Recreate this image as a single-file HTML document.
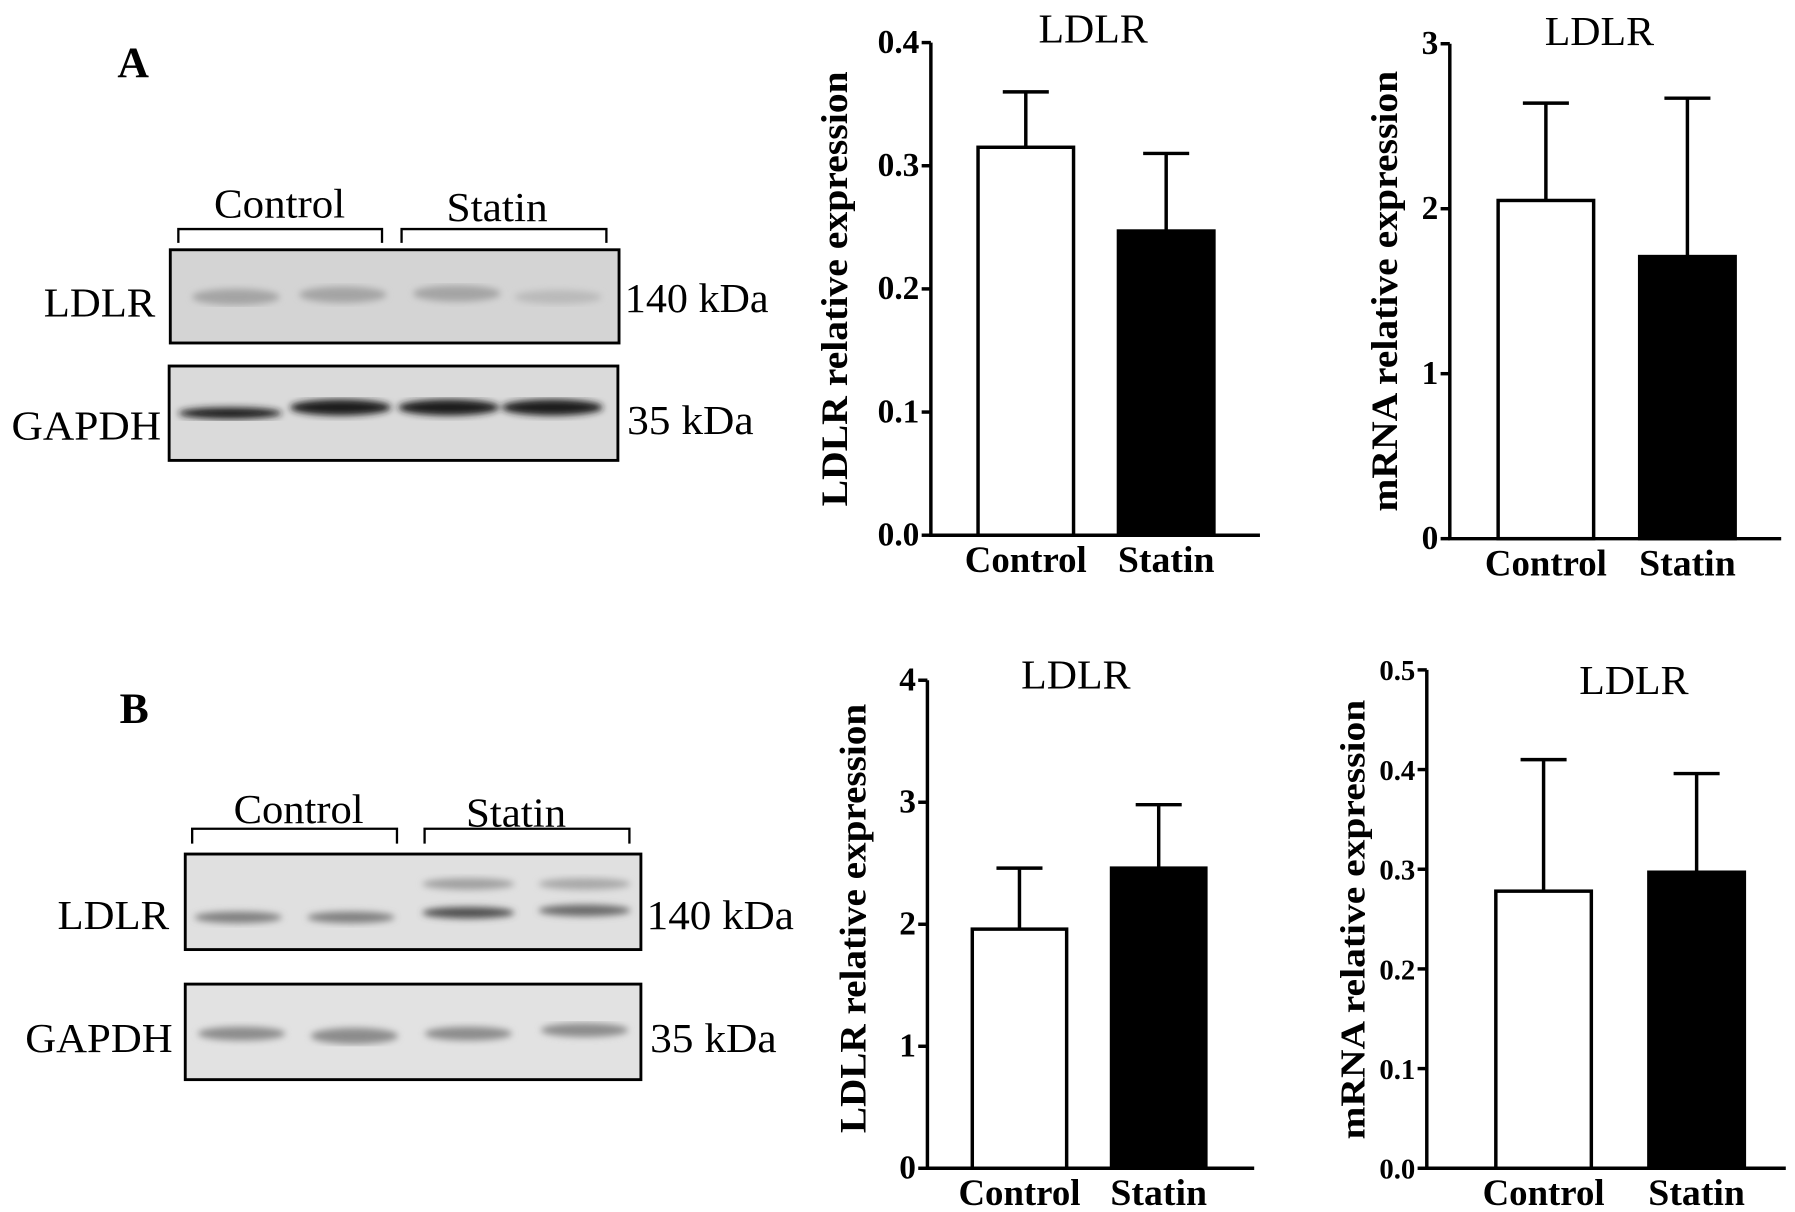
<!DOCTYPE html>
<html><head><meta charset="utf-8"><style>
html,body{margin:0;padding:0;background:#fff}
svg{display:block;font-family:"Liberation Serif",serif}
</style></head><body>
<svg id="fig" width="1795" height="1212" viewBox="0 0 1560 1053" preserveAspectRatio="none" xmlns="http://www.w3.org/2000/svg">
<defs>
<filter id="blur2"><feGaussianBlur stdDeviation="3"/></filter>
</defs>
<!-- Panel A blot -->
<text x="102" y="67" font-size="38" font-weight="bold">A</text>
<text x="186" y="189" font-size="36" textLength="114" lengthAdjust="spacingAndGlyphs">Control</text>
<text x="388" y="192" font-size="36" textLength="88" lengthAdjust="spacingAndGlyphs">Statin</text>
<path d="M155 211 V199 H332 V211" fill="none" stroke="#000" stroke-width="2"/>
<path d="M349 211 V199 H527 V211" fill="none" stroke="#000" stroke-width="2"/>
<g>
<rect x="148" y="217" width="390" height="81" fill="#d4d4d4" stroke="#000" stroke-width="2.5"/>
<g filter="url(#blur2)" fill="#a4a4a4">
<ellipse cx="205" cy="258" rx="38" ry="7"/><ellipse cx="298" cy="256" rx="38" ry="7"/>
<ellipse cx="397" cy="255" rx="38" ry="7"/><ellipse cx="485" cy="258" rx="38" ry="6" fill="#bababa"/>
</g></g>
<text x="38" y="275" font-size="36" textLength="97" lengthAdjust="spacingAndGlyphs">LDLR</text>
<text x="543" y="271" font-size="36" textLength="125" lengthAdjust="spacingAndGlyphs">140 kDa</text>
<g>
<rect x="147" y="318" width="390" height="82" fill="#dadada" stroke="#000" stroke-width="2.5"/>
<g filter="url(#blur2)" fill="#1e1e1e">
<ellipse cx="200" cy="359" rx="45" ry="5"/><ellipse cx="296" cy="354" rx="44" ry="7"/>
<ellipse cx="390" cy="354" rx="44" ry="7"/><ellipse cx="480" cy="354" rx="44" ry="7"/>
</g></g>
<text x="10" y="382" font-size="36" textLength="130" lengthAdjust="spacingAndGlyphs">GAPDH</text>
<text x="545" y="377" font-size="36" textLength="110" lengthAdjust="spacingAndGlyphs">35 kDa</text>
<!-- Panel B blot -->
<text x="104" y="628" font-size="38" font-weight="bold">B</text>
<text x="203" y="715" font-size="36" textLength="113" lengthAdjust="spacingAndGlyphs">Control</text>
<text x="405" y="718" font-size="36" textLength="87" lengthAdjust="spacingAndGlyphs">Statin</text>
<path d="M167 733 V720 H345 V733" fill="none" stroke="#000" stroke-width="2"/>
<path d="M369 733 V720 H547 V733" fill="none" stroke="#000" stroke-width="2"/>
<g>
<rect x="161" y="742" width="396" height="83" fill="#e0e0e0" stroke="#000" stroke-width="2.5"/>
<g filter="url(#blur2)">
<ellipse cx="207" cy="797" rx="38" ry="5" fill="#808080"/><ellipse cx="305" cy="797" rx="38" ry="5" fill="#808080"/>
<ellipse cx="407" cy="793" rx="40" ry="5" fill="#505050"/><ellipse cx="508" cy="791" rx="40" ry="5" fill="#6a6a6a"/>
<ellipse cx="407" cy="768" rx="40" ry="5" fill="#a0a0a0"/><ellipse cx="508" cy="768" rx="40" ry="5" fill="#a8a8a8"/>
</g></g>
<text x="50" y="807" font-size="36" textLength="97" lengthAdjust="spacingAndGlyphs">LDLR</text>
<text x="562" y="807" font-size="36" textLength="128" lengthAdjust="spacingAndGlyphs">140 kDa</text>
<g>
<rect x="161" y="855" width="396" height="83" fill="#e2e2e2" stroke="#000" stroke-width="2.5"/>
<g filter="url(#blur2)" fill="#8c8c8c">
<ellipse cx="210" cy="898" rx="38" ry="6"/><ellipse cx="308" cy="900" rx="38" ry="7"/>
<ellipse cx="407" cy="898" rx="38" ry="6"/><ellipse cx="508" cy="895" rx="38" ry="6"/>
</g></g>
<text x="22" y="914" font-size="36" textLength="128" lengthAdjust="spacingAndGlyphs">GAPDH</text>
<text x="565" y="914" font-size="36" textLength="110" lengthAdjust="spacingAndGlyphs">35 kDa</text>
<g id="charts"></g>
</svg>
<script>
const categories = ["Control", "Statin"];
const aProteinValues = [0.315, 0.247];
const aProteinErrors = [0.36, 0.31];
const aProteinTicks = ["0.0", "0.1", "0.2", "0.3", "0.4"];
const aMrnaValues = [2.05, 1.71];
const aMrnaErrors = [2.64, 2.67];
const aMrnaTicks = ["0", "1", "2", "3"];
const bProteinValues = [1.96, 2.46];
const bProteinErrors = [2.46, 2.98];
const bProteinTicks = ["0", "1", "2", "3", "4"];
const bMrnaValues = [0.278, 0.297];
const bMrnaErrors = [0.41, 0.396];
const bMrnaTicks = ["0.0", "0.1", "0.2", "0.3", "0.4", "0.5"];

const NS = "http://www.w3.org/2000/svg";
const root = document.getElementById("charts");
function mk(tag, attrs, parent, text) {
  const e = document.createElementNS(NS, tag);
  for (const k in attrs) e.setAttribute(k, attrs[k]);
  if (text !== undefined) e.textContent = text;
  parent.appendChild(e);
  return e;
}
function chart(id, cfg, values, errors, ticks) {
  const g = mk("g", {}, root);
  
  
  const max = parseFloat(ticks[ticks.length - 1]);
  const y = v => cfg.y0 - (v / max) * (cfg.y0 - cfg.y1);
  const ax = mk("path", {d: `M${cfg.ax} ${cfg.y1} V${cfg.y0} H${cfg.xEnd}`, fill: "none", stroke: "#000", "stroke-width": 3}, g);
  
  
  ticks.forEach(t => {
    const ty = y(parseFloat(t));
    mk("line", {x1: cfg.ax - 8, x2: cfg.ax, y1: ty, y2: ty, stroke: "#000", "stroke-width": 3}, g);
    const tl = mk("text", {x: cfg.ax - 10, y: ty + 9, "font-size": cfg.tf, "font-weight": "bold", "text-anchor": "end"}, g, t);
    
    
  });
  categories.forEach((c, i) => {
    const x0 = cfg.bars[i], w = cfg.bw;
    const top = y(values[i]), et = y(errors[i]);
    const eb = mk("path", {d: `M${x0 + w / 2} ${top} V${et} M${x0 + w / 2 - 20} ${et} H${x0 + w / 2 + 20}`, stroke: "#000", "stroke-width": 3, fill: "none"}, g);
    
    
    const r = mk("rect", {x: x0, y: top, width: w, height: cfg.y0 - top, fill: i === 0 ? "#fff" : "#000", stroke: "#000", "stroke-width": 3}, g);
    
    
    const xl = mk("text", {x: x0 + w / 2, y: cfg.y0 + 32, "font-size": 32, "font-weight": "bold", "text-anchor": "middle", textLength: i === 0 ? 106 : 84, lengthAdjust: "spacingAndGlyphs"}, g, c);
    
    
  });
  const tt = mk("text", {x: cfg.tx, y: cfg.ty, "font-size": 36, "text-anchor": "middle", textLength: 95, lengthAdjust: "spacingAndGlyphs"}, g, "LDLR");
  
  
  const yl = mk("text", {x: 0, y: 0, "font-size": cfg.lf, "font-weight": "bold", "text-anchor": "middle", textLength: cfg.ll, lengthAdjust: "spacingAndGlyphs", transform: `translate(${cfg.lx},${cfg.ly}) rotate(-90)`}, g, cfg.label);
  
  
}
chart("chart-a-protein", {ax: 809, y0: 465, y1: 37, xEnd: 1095, bars: [850, 972], bw: 83, tx: 950, ty: 37, lx: 736, ly: 251, ll: 378, lf: 32, tf: 29, label: "LDLR relative expression"}, aProteinValues, aProteinErrors, aProteinTicks);
chart("chart-a-mrna", {ax: 1260, y0: 468, y1: 38, xEnd: 1548, bars: [1302, 1425], bw: 83, tx: 1390, ty: 39, lx: 1214, ly: 253, ll: 383, lf: 32, tf: 29, label: "mRNA relative expression"}, aMrnaValues, aMrnaErrors, aMrnaTicks);
chart("chart-b-protein", {ax: 806, y0: 1015, y1: 591, xEnd: 1090, bars: [845, 966], bw: 82, tx: 935, ty: 598, lx: 752, ly: 798, ll: 373, lf: 32, tf: 29, label: "LDLR relative expression"}, bProteinValues, bProteinErrors, bProteinTicks);
chart("chart-b-mrna", {ax: 1240, y0: 1015, y1: 582, xEnd: 1552, bars: [1300, 1433], bw: 83, tx: 1420, ty: 603, lx: 1186, ly: 799, ll: 382, lf: 30, tf: 25, label: "mRNA relative expression"}, bMrnaValues, bMrnaErrors, bMrnaTicks);
</script>
</body></html>
